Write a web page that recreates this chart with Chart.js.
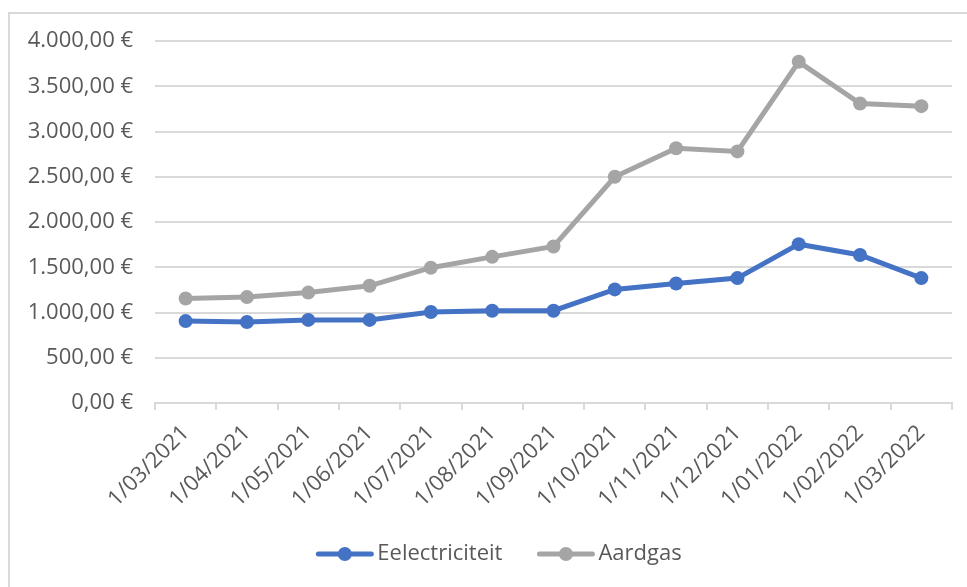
<!DOCTYPE html>
<html>
<head>
<meta charset="utf-8">
<title>Energiekosten</title>
<script src="https://cdn.jsdelivr.net/npm/chart.js@4.4.1/dist/chart.umd.min.js"></script>
<style>
  html, body { margin: 0; padding: 0; background: #fff; overflow: hidden; }
  #frame { position: absolute; left: 8px; top: 12px; width: 1000px; height: 620px; border: 2px solid #d9d9d9; }
  #charts { position: absolute; left: 0; top: 0; width: 967px; height: 587px; }
</style>
</head>
<body>
<div id="frame"></div>
<div id="charts"><canvas id="theChart" width="967" height="587"></canvas></div>
<script>
// months shown on the x axis
var maanden = ['1/03/2021', '1/04/2021', '1/05/2021', '1/06/2021', '1/07/2021', '1/08/2021', '1/09/2021',
               '1/10/2021', '1/11/2021', '1/12/2021', '1/01/2022', '1/02/2022', '1/03/2022'];

// yearly cost in euro per month
var elektriciteit = [905, 895, 918, 918, 1005, 1020, 1020, 1255, 1320, 1380, 1755, 1635, 1380];
var aardgas = [1155, 1170, 1220, 1295, 1495, 1615, 1730, 2500, 2815, 2780, 3770, 3310, 3280];

// values for the y axis ticks
var yTicks = [0, 500, 1000, 1500, 2000, 2500, 3000, 3500, 4000];

var tekstKleur = '#595959';
var rasterKleur = '#d9d9d9';
var lettertype = { family: '"Open Sans", sans-serif', size: 22 };

// function to format a number like 4.000,00 €
function euro(value){
  var parts = Number(value).toFixed(2).split('.');
  var whole = parts[0].replace(/\B(?=(\d{3})+(?!\d))/g, '.');
  return whole + ',' + parts[1] + ' €';
}

// legend drawn under the chart: line + marker, then the series name
var lineLegend = {
  id: 'lineLegend',
  afterDraw: function(chart){
    var ctx = chart.ctx;
    var sets = chart.data.datasets;
    var sampleLen = 57, textGap = 4, itemGap = 35;
    ctx.save();
    ctx.font = lettertype.size + 'px ' + lettertype.family;
    var total = 0;
    for (var i = 0; i < sets.length; i++){
      total += sampleLen + textGap + ctx.measureText(sets[i].label).width;
      if (i > 0) total += itemGap;
    }
    var x = 499 - total / 2;
    var y = 554;
    ctx.textBaseline = 'middle';
    ctx.textAlign = 'left';
    for (var i = 0; i < sets.length; i++){
      ctx.strokeStyle = sets[i].borderColor;
      ctx.lineWidth = 5;
      ctx.lineCap = 'round';
      ctx.beginPath();
      ctx.moveTo(x + 2, y);
      ctx.lineTo(x + sampleLen - 2, y);
      ctx.stroke();
      ctx.fillStyle = sets[i].borderColor;
      ctx.beginPath();
      ctx.arc(x + sampleLen / 2, y, 7, 0, Math.PI * 2);
      ctx.fill();
      x += sampleLen + textGap;
      ctx.fillStyle = tekstKleur;
      ctx.fillText(sets[i].label, x, y);
      x += ctx.measureText(sets[i].label).width + itemGap;
    }
    ctx.restore();
  }
};

var myChart = document.getElementById('theChart').getContext('2d');
var chart = new Chart(myChart, {
  type: 'line',
  data: {
    labels: maanden,
    datasets: [{
      label: 'Eelectriciteit',
      data: elektriciteit,
      borderColor: '#4472c4',
      backgroundColor: '#4472c4',
      borderWidth: 5,
      pointRadius: 7,
      pointBorderWidth: 0,
      tension: 0
    }, {
      label: 'Aardgas',
      data: aardgas,
      borderColor: '#a5a5a5',
      backgroundColor: '#a5a5a5',
      borderWidth: 5,
      pointRadius: 7,
      pointBorderWidth: 0,
      tension: 0
    }]
  },
  options: {
    responsive: false,
    animation: false,
    layout: { padding: { left: 0, top: 41, right: 15, bottom: 0 } },
    plugins: {
      legend: { display: false },
      tooltip: { enabled: false }
    },
    scales: {
      x: {
        offset: true,
        grid: { offset: true, drawOnChartArea: false, drawTicks: true, tickLength: 7, color: rasterKleur, lineWidth: 2 },
        border: { color: rasterKleur, width: 2 },
        ticks: { color: tekstKleur, font: lettertype, minRotation: 45, maxRotation: 45, autoSkip: false, padding: 10 },
        afterFit: function(scale){ scale.height = 184; }
      },
      y: {
        min: 0,
        max: 4000,
        grid: { color: rasterKleur, lineWidth: 2, drawTicks: false },
        border: { display: false },
        ticks: { color: tekstKleur, font: lettertype, padding: 22, callback: function(v){ return euro(v); } },
        afterBuildTicks: function(scale){ scale.ticks = yTicks.map(function(v){ return { value: v }; }); },
        afterFit: function(scale){ scale.width = 155; }
      }
    }
  },
  plugins: [lineLegend]
});
</script>
</body>
</html>
